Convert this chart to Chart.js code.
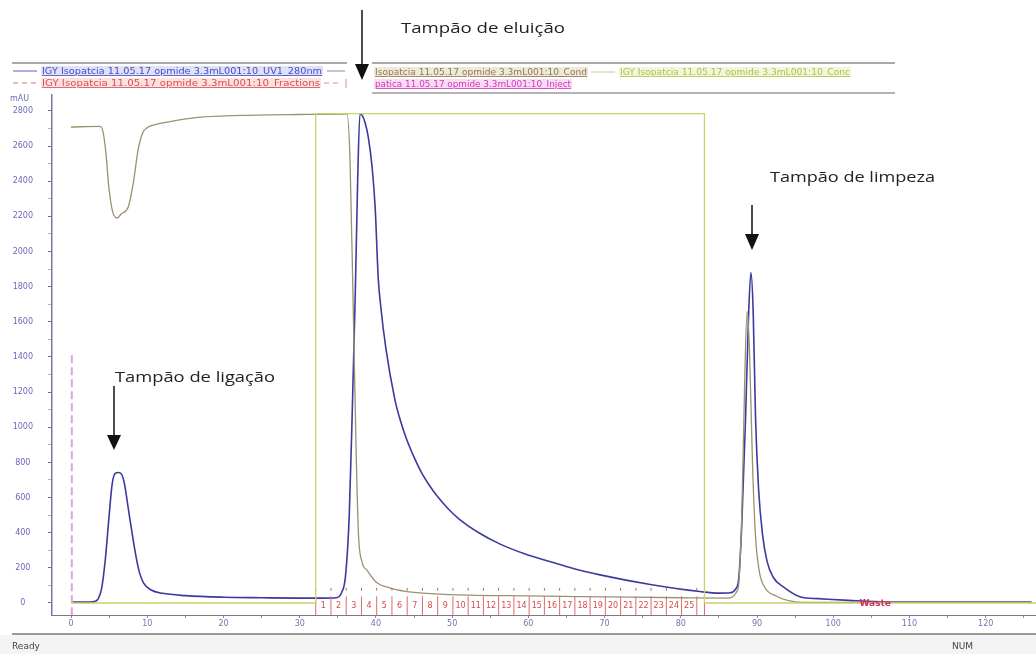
<!DOCTYPE html>
<html>
<head>
<meta charset="utf-8">
<script src="https://cdn.jsdelivr.net/npm/chart.js@4.4.1/dist/chart.umd.min.js"></script>
<style>
  html,body{margin:0;padding:0;background:#fff;}
  #wrap{position:relative;width:1036px;height:654px;overflow:hidden;background:#fff;}
  #c{position:absolute;left:0;top:0;}
  #ov{position:absolute;left:0;top:0;}
</style>
</head>
<body>
<div id="wrap">
<canvas id="c" width="1036" height="654"></canvas>
<svg id="ov" width="1036" height="654" xmlns="http://www.w3.org/2000/svg">
  <!-- legend frame -->
  <line x1="12" y1="63" x2="347" y2="63" stroke="#a9a9a9" stroke-width="2"/>
  <line x1="372" y1="63" x2="895" y2="63" stroke="#a9a9a9" stroke-width="2"/>
  <line x1="372" y1="93" x2="895" y2="93" stroke="#b4b4b4" stroke-width="2"/>
  <!-- legend row 1 -->
  <line x1="13" y1="71" x2="37" y2="71" stroke="#5c5cc8" stroke-width="1"/>
  <rect x="41" y="66" width="282" height="10" fill="#dde2f7"/>
  <text x="42" y="74" font-family="DejaVu Sans" font-size="8" fill="#4a4ac4" text-decoration="underline" textLength="280" lengthAdjust="spacingAndGlyphs">IGY Isopatcia 11.05.17 opmide 3.3mL001:10_UV1_280nm</text>
  <line x1="327" y1="71" x2="345" y2="71" stroke="#8a8ab0" stroke-width="1"/>
  <rect x="374" y="67" width="214" height="10" fill="#efe9dc"/>
  <text x="375" y="75" font-family="DejaVu Sans" font-size="8" fill="#8e7b4c" text-decoration="underline" textLength="212" lengthAdjust="spacingAndGlyphs">Isopatcia 11.05.17 opmide 3.3mL001:10_Cond</text>
  <line x1="591" y1="72" x2="615" y2="72" stroke="#c6cc98" stroke-width="1"/>
  <rect x="619" y="67" width="232" height="10" fill="#f3f6dc"/>
  <text x="620" y="75" font-family="DejaVu Sans" font-size="8" fill="#b2c244" text-decoration="underline" textLength="230" lengthAdjust="spacingAndGlyphs">IGY Isopatcia 11.05.17 opmide 3.3mL001:10_Conc</text>
  <!-- legend row 2 -->
  <line x1="13" y1="83" x2="37" y2="83" stroke="#e06a6a" stroke-width="1" stroke-dasharray="5,4"/>
  <rect x="41" y="78" width="280" height="10" fill="#fbe2e2"/>
  <text x="42" y="86" font-family="DejaVu Sans" font-size="8" fill="#e04c4c" text-decoration="underline" textLength="278" lengthAdjust="spacingAndGlyphs">IGY Isopatcia 11.05.17 opmide 3.3mL001:10_Fractions</text>
  <line x1="324" y1="83" x2="342" y2="83" stroke="#e08a8a" stroke-width="1" stroke-dasharray="5,4"/>
  <line x1="346" y1="79" x2="346" y2="88" stroke="#e08a8a" stroke-width="1"/>
  <rect x="374" y="79" width="198" height="10" fill="#f8dcf2"/>
  <text x="375" y="87" font-family="DejaVu Sans" font-size="8" fill="#d236c2" text-decoration="underline" textLength="196" lengthAdjust="spacingAndGlyphs">patica 11.05.17 opmide 3.3mL001:10_Inject</text>
  <!-- y unit -->
  <text x="10" y="101" font-family="DejaVu Sans" font-size="8" fill="#6a6ab8">mAU</text>
  <!-- annotations -->
  <line x1="362" y1="10" x2="362" y2="68" stroke="#111" stroke-width="1.5"/>
  <polygon points="355,64 369,64 362,80" fill="#111"/>
  <text x="401" y="33" font-family="Open Sans" font-size="15" fill="#222" textLength="164" lengthAdjust="spacingAndGlyphs">Tampão de eluição</text>
  <line x1="114" y1="386" x2="114" y2="438" stroke="#111" stroke-width="1.5"/>
  <polygon points="107,435 121,435 114,450" fill="#111"/>
  <text x="115" y="382" font-family="Open Sans" font-size="15" fill="#222" textLength="160" lengthAdjust="spacingAndGlyphs">Tampão de ligação</text>
  <line x1="752" y1="205" x2="752" y2="236" stroke="#111" stroke-width="1.5"/>
  <polygon points="745,234 759,234 752,250" fill="#111"/>
  <text x="770" y="182" font-family="Open Sans" font-size="15" fill="#222" textLength="165" lengthAdjust="spacingAndGlyphs">Tampão de limpeza</text>
  <!-- status bar -->
  <rect x="0" y="635" width="1036" height="19" fill="#f5f3f4"/>
  <line x1="12" y1="634" x2="1036" y2="634" stroke="#9a9a9a" stroke-width="2"/>
  <text x="12" y="649" font-family="DejaVu Sans" font-size="9" fill="#444">Ready</text>
  <text x="952" y="649" font-family="DejaVu Sans" font-size="9" fill="#444">NUM</text>
</svg>
</div>
<script>
// ---- data (x in mL, y in mAU) ----
const uvX = [0, 2, 3, 3.5, 4, 4.5, 5, 5.4, 5.8, 6.2, 6.6, 7.0, 7.5, 8.0, 8.5, 9.0, 9.5, 10.5, 12, 15, 20, 25, 30, 33,
  34.8, 35.5, 36.0, 36.5, 36.9, 37.3, 37.6, 37.9, 38.2, 38.6, 39.0, 39.5, 39.9, 40.3, 40.6, 41.3, 42.5, 43.2, 44, 45,
  46, 47, 48, 49.5, 51, 53.5, 56.3, 59.5, 62.9, 66, 69.4, 76, 82.5, 85, 86.5, 87.2, 87.6, 88, 88.5, 88.9, 89.2, 89.5,
  89.8, 90.2, 90.7, 91.3, 92.1, 93.5, 95.7, 98, 102, 107, 115, 126];
const uvY = [5, 5, 8, 20, 80, 250, 500, 680, 738, 743, 735, 680, 540, 400, 270, 170, 115, 74, 55, 42, 33, 30, 28, 28,
  30, 60, 150, 500, 1100, 1780, 2400, 2783, 2775, 2730, 2650, 2480, 2250, 1850, 1700, 1450, 1155, 1040, 935, 830,
  740, 670, 610, 535, 475, 400, 335, 280, 235, 195, 160, 105, 65, 56, 58, 80, 140, 450, 1060, 1650, 1880, 1650,
  1060, 650, 398, 240, 148, 90, 34, 25, 15, 6, 5, 5];

const condX = [0, 3.8, 4.2, 4.6, 4.9, 5.4, 6.0, 6.6, 7.5, 8.2, 8.8, 9.4, 10.0, 10.8, 13, 17.3, 24.4, 30, 36.2, 36.6,
  37.0, 37.4, 37.7, 38.2, 38.8, 40, 41.9, 45, 50, 60, 70, 80, 86, 87.5, 88, 88.4, 88.7, 89.0, 89.4, 89.8, 90.3, 91,
  92.5, 94, 96, 126];
const condY = [2709, 2712, 2680, 2550, 2390, 2237, 2191, 2215, 2254, 2400, 2580, 2675, 2705, 2720, 2740, 2766, 2777, 2780, 2782, 2521,
  1724, 870, 400, 230, 188, 120, 85, 60, 48, 40, 35, 30, 28, 80, 500, 1300, 1660, 1450, 800, 380, 180, 90,
  40, 15, 3, 3];

const concX = [0, 32.1, 32.1, 83.1, 83.1, 126.6];
const concY = [0, 0, 2785, 2785, 0, 0];

const injectX = [0.1, 0.1];
const injectY = [-70, 1411];

const fractionBounds = [32.1, 34.1, 36.1, 38.1, 40.1, 42.1, 44.1, 46.1, 48.1, 50.1, 52.1, 54.1, 56.1, 58.1, 60.1,
  62.1, 64.1, 66.1, 68.1, 70.1, 72.1, 74.1, 76.1, 78.1, 80.1, 82.1, 83.1];
const fractionLabels = ['1','2','3','4','5','6','7','8','9','10','11','12','13','14','15','16','17','18','19','20',
  '21','22','23','24','25'];
const wasteLabel = 'Waste';
const wasteX = 105.5;

const xMajorTicks = [0, 10, 20, 30, 40, 50, 60, 70, 80, 90, 100, 110, 120];
const xMinorTicks = [5, 15, 25, 35, 45, 55, 65, 75, 85, 95, 105, 115, 125];
const yMajorTicks = [0, 200, 400, 600, 800, 1000, 1200, 1400, 1600, 1800, 2000, 2200, 2400, 2600, 2800];
const yMinorTicks = [100, 300, 500, 700, 900, 1100, 1300, 1500, 1700, 1900, 2100, 2300, 2500, 2700];

// ---- helpers ----
const pts = (xs, ys) => xs.map((x, i) => ({x: x, y: ys[i]}));
const FRAC_BOTTOM = -70, FRAC_TOP = 38, MARK_LOW = 70, MARK_HIGH = 86;
const fracData = [];
fractionBounds.forEach(b => {
  fracData.push({x: b, y: FRAC_BOTTOM}, {x: b, y: FRAC_TOP}, {x: b, y: null});
});
const fracMarks = [];
fractionBounds.slice(0, 26).forEach(b => {
  fracMarks.push({x: b, y: MARK_LOW}, {x: b, y: MARK_HIGH}, {x: b, y: null});
});

Chart.defaults.font.family = 'DejaVu Sans';

const fractionText = {
  id: 'fractionText',
  afterDatasetsDraw(chart) {
    const {ctx, scales: {x, y}} = chart;
    ctx.save();
    ctx.textAlign = 'center';
    ctx.textBaseline = 'middle';
    ctx.font = '8px "DejaVu Sans"';
    ctx.fillStyle = '#d84a4a';
    fractionLabels.forEach((lab, i) => {
      const cx = x.getPixelForValue((fractionBounds[i] + fractionBounds[i + 1]) / 2);
      ctx.fillText(lab, cx, y.getPixelForValue(-18));
    });
    ctx.font = 'bold 9px "DejaVu Sans"';
    ctx.fillStyle = '#c8306a';
    ctx.fillText(wasteLabel, x.getPixelForValue(wasteX), y.getPixelForValue(0) + 1);
    ctx.restore();
  }
};

const allX = xMajorTicks.concat(xMinorTicks).sort((a, b) => a - b);
const allY = yMajorTicks.concat(yMinorTicks).sort((a, b) => a - b);

new Chart(document.getElementById('c'), {
  type: 'scatter',
  data: {
    datasets: [
      {label: 'Conc', data: pts(concX, concY), showLine: true, borderColor: '#c9d46a', borderWidth: 1.3,
        pointRadius: 0, tension: 0},
      {label: 'Fractions', data: fracData, showLine: true, spanGaps: false, borderColor: '#de6a6a', borderWidth: 1,
        pointRadius: 0, tension: 0},
      {label: 'FractionMarks', data: fracMarks, showLine: true, spanGaps: false, borderColor: '#b06868', borderWidth: 1,
        pointRadius: 0, tension: 0},
      {label: 'Cond', data: pts(condX, condY), showLine: true, borderColor: '#9c916e', borderWidth: 1.3,
        pointRadius: 0, cubicInterpolationMode: 'monotone'},
      {label: 'Inject', data: pts(injectX, injectY), showLine: true, borderColor: '#d9a6d9', borderWidth: 2,
        borderDash: [8, 4], pointRadius: 0, tension: 0},
      {label: 'UV1_280nm', data: pts(uvX, uvY), showLine: true, borderColor: '#3b3b9e', borderWidth: 1.6,
        pointRadius: 0, cubicInterpolationMode: 'monotone'}
    ]
  },
  options: {
    responsive: false,
    animation: false,
    devicePixelRatio: 1,
    layout: {padding: {top: 95, left: 0, right: 0, bottom: 0}},
    plugins: {legend: {display: false}, tooltip: {enabled: false}},
    scales: {
      x: {
        type: 'linear', min: -2.5, max: 126.6,
        afterFit(s) { s.height = 39; },
        afterBuildTicks(s) { s.ticks = allX.map(v => ({value: v})); },
        ticks: {
          autoSkip: false, maxRotation: 0, padding: 1,
          callback: v => xMajorTicks.includes(v) ? String(v) : '',
          font: {size: 8}, color: '#7474b2'
        },
        grid: {drawOnChartArea: false, tickLength: 3, color: '#8a8aa8'},
        border: {color: '#7a7a7a', width: 1}
      },
      y: {
        type: 'linear', min: -68.3, max: 2891,
        afterFit(s) { s.width = 52; },
        afterBuildTicks(s) { s.ticks = allY.map(v => ({value: v})); },
        ticks: {
          autoSkip: false, padding: 15, crossAlign: 'center',
          callback: v => yMajorTicks.includes(v) ? String(v) : '',
          font: {size: 8}, color: '#6a6ab8'
        },
        grid: {drawOnChartArea: false, tickLength: 4,
          color: ctx => (ctx.tick && yMajorTicks.includes(ctx.tick.value)) ? '#6868a8' : '#b0b0cc'},
        border: {color: '#7676a8', width: 1.5}
      }
    }
  },
  plugins: [fractionText]
});
</script>
</body>
</html>
